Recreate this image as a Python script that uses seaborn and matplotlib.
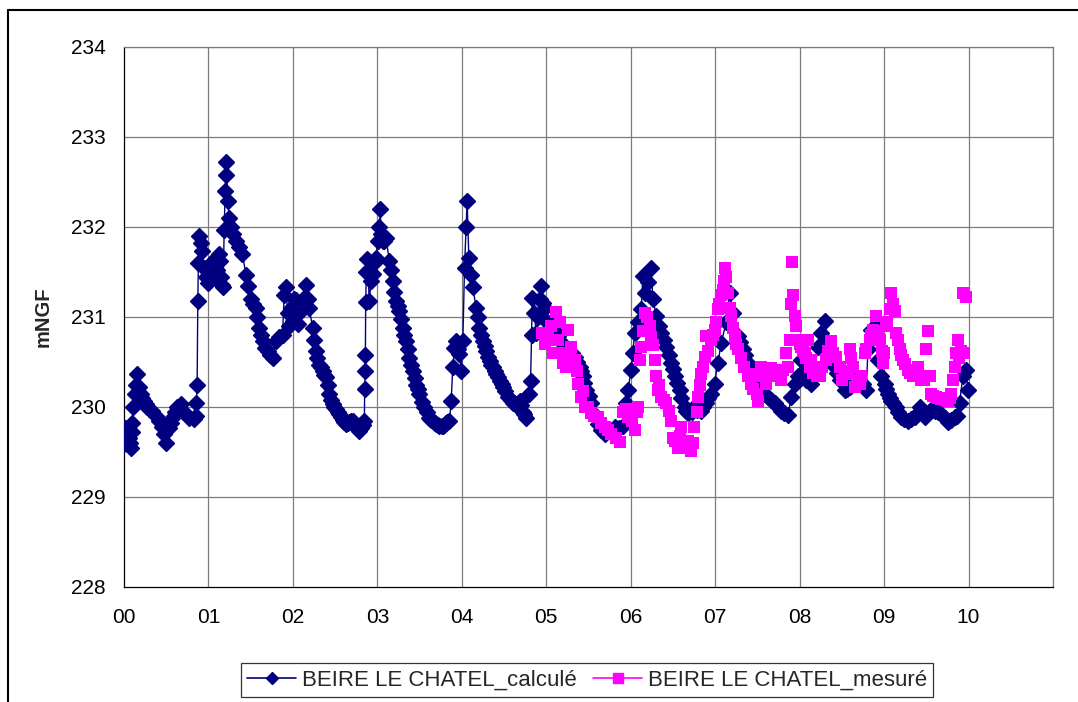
import numpy as np
import pandas as pd
import matplotlib
matplotlib.use("Agg")
import matplotlib.pyplot as plt
from matplotlib.lines import Line2D
import seaborn as sns

# ---------------- data ----------------
series_names = ["BEIRE LE CHATEL_calculé", "BEIRE LE CHATEL_mesuré"]
x_tick_labels = ["00", "01", "02", "03", "04", "05", "06", "07", "08", "09", "10"]
y_ticks = [228, 229, 230, 231, 232, 233, 234]
y_label = "mNGF"

calc_t = [0.000, 0.010, 0.025, 0.040, 0.055, 0.070, 0.079, 0.090, 0.099, 0.110, 0.130, 0.142,
          0.158, 0.178, 0.198, 0.237, 0.277, 0.336, 0.415, 0.474, 0.494, 0.534, 0.573, 0.632,
          0.672, 0.711, 0.771, 0.830, 0.850, 0.858, 0.866, 0.874, 0.881, 0.889, 0.909, 0.929,
          0.949, 0.968, 0.990, 1.008, 1.030, 1.047, 1.060, 1.087, 1.100, 1.126, 1.140, 1.146,
          1.160, 1.174, 1.186, 1.198, 1.205, 1.213, 1.229, 1.245, 1.265, 1.285, 1.324, 1.364,
          1.403, 1.443, 1.470, 1.502, 1.531, 1.561, 1.601, 1.640, 1.670, 1.700, 1.759, 1.798,
          1.838, 1.877, 1.897, 1.917, 1.937, 1.956, 1.976, 1.996, 2.016, 2.036, 2.055, 2.075,
          2.115, 2.154, 2.174, 2.194, 2.233, 2.273, 2.312, 2.352, 2.391, 2.431, 2.470, 2.510,
          2.549, 2.589, 2.628, 2.668, 2.708, 2.747, 2.787, 2.826, 2.846, 2.850, 2.854, 2.858,
          2.862, 2.870, 2.878, 2.905, 2.925, 2.945, 2.964, 2.984, 3.004, 3.024, 3.034, 3.044,
          3.063, 3.083, 3.103, 3.142, 3.182, 3.221, 3.261, 3.300, 3.340, 3.379, 3.419, 3.458,
          3.498, 3.557, 3.617, 3.656, 3.696, 3.735, 3.775, 3.815, 3.854, 3.874, 3.893, 3.913,
          3.933, 3.953, 3.972, 3.992, 4.012, 4.032, 4.051, 4.063, 4.083, 4.111, 4.130, 4.170,
          4.209, 4.249, 4.289, 4.328, 4.368, 4.407, 4.447, 4.486, 4.545, 4.605, 4.645, 4.684,
          4.724, 4.763, 4.794, 4.814, 4.826, 4.834, 4.858, 4.881, 4.901, 4.921, 4.941, 4.960,
          4.980, 5.012, 5.059, 5.138, 5.256, 5.335, 5.394, 5.434, 5.473, 5.533, 5.611, 5.690,
          5.809, 5.907, 5.947, 5.966, 6.006, 6.026, 6.045, 6.085, 6.124, 6.144, 6.164, 6.203,
          6.243, 6.262, 6.302, 6.361, 6.420, 6.479, 6.519, 6.578, 6.637, 6.677, 6.755, 6.834,
          6.893, 6.953, 6.992, 7.032, 7.071, 7.130, 7.170, 7.209, 7.268, 7.327, 7.387, 7.467,
          7.546, 7.625, 7.704, 7.783, 7.862, 7.901, 7.941, 7.980, 8.020, 8.039, 8.079, 8.138,
          8.178, 8.217, 8.256, 8.296, 8.335, 8.375, 8.414, 8.473, 8.533, 8.592, 8.651, 8.710,
          8.750, 8.789, 8.809, 8.848, 8.888, 8.927, 8.966, 9.006, 9.045, 9.085, 9.144, 9.203,
          9.282, 9.361, 9.420, 9.479, 9.538, 9.598, 9.677, 9.755, 9.834, 9.893, 9.933, 9.972,
          9.992,
          # further readings along the recession limbs
          0.217, 0.257, 0.300, 0.375, 0.445, 0.553, 0.600, 1.580, 1.620, 1.730,
          2.250, 2.290, 2.330, 2.370, 2.410, 2.450, 2.490, 2.530, 2.570, 2.610, 2.650, 2.690,
          2.730, 2.770, 2.810, 3.160, 3.200, 3.240, 3.280, 3.320, 3.360, 3.400, 3.440, 3.480,
          3.530, 3.590, 3.640, 3.680, 3.720, 3.760, 3.790, 3.830, 4.190, 4.230, 4.270, 4.310,
          4.350, 4.390, 4.430, 4.470, 4.510, 4.580, 4.620, 4.660, 4.700, 4.740, 5.100, 5.200,
          5.300, 5.360, 5.410, 5.450, 5.500, 5.570, 5.650, 5.750, 5.860, 6.340, 6.390, 6.450,
          6.500, 6.550, 6.600, 6.660, 6.720, 6.790, 6.860, 6.920, 7.290, 7.350, 7.430, 7.500,
          7.580, 7.660, 7.740, 7.820, 8.440, 8.560, 8.620, 8.680, 9.020, 9.070, 9.110, 9.170,
          9.240, 9.320, 9.390, 9.450, 9.510, 9.570, 9.640, 9.720, 9.790, 9.860]
calc_v = [229.59, 229.77, 229.70, 229.62, 229.66, 229.60, 229.55, 229.72, 229.82, 230.00, 230.14, 230.25,
          230.37, 230.22, 230.14, 230.07, 230.00, 229.96, 229.84, 229.70, 229.60, 229.77, 229.88, 230.00,
          230.03, 229.94, 229.88, 229.87, 229.90, 230.05, 230.25, 231.18, 231.60, 231.90, 231.82, 231.73,
          231.55, 231.44, 231.38, 231.48, 231.60, 231.55, 231.45, 231.66, 231.52, 231.70, 231.62, 231.44,
          231.36, 231.33, 231.97, 232.40, 232.58, 232.72, 232.29, 232.10, 232.00, 231.92, 231.84, 231.78,
          231.70, 231.47, 231.35, 231.20, 231.15, 231.10, 230.88, 230.73, 230.66, 230.62, 230.55, 230.73,
          230.78, 230.80, 231.25, 231.33, 231.05, 230.90, 231.10, 230.96, 231.20, 231.19, 230.92, 231.05,
          231.20, 231.36, 231.20, 231.10, 230.88, 230.62, 230.47, 230.40, 230.33, 230.14, 230.03, 229.98,
          229.92, 229.86, 229.81, 229.83, 229.84, 229.78, 229.73, 229.80, 229.84, 230.20, 230.40, 230.58,
          231.17, 231.50, 231.65, 231.18, 231.40, 231.48, 231.60, 231.66, 231.85, 232.00, 232.20, 231.92,
          231.84, 231.85, 231.88, 231.62, 231.40, 231.18, 231.07, 230.88, 230.73, 230.55, 230.40, 230.25,
          230.14, 230.00, 229.88, 229.84, 229.81, 229.79, 229.79, 229.82, 229.84, 230.07, 230.44, 230.66,
          230.73, 230.65, 230.59, 230.40, 230.73, 231.55, 232.00, 232.29, 231.66, 231.47, 231.33, 231.10,
          230.88, 230.73, 230.62, 230.51, 230.44, 230.37, 230.29, 230.22, 230.11, 230.05, 230.02, 230.07,
          229.95, 229.88, 230.14, 230.29, 230.80, 231.21, 231.05, 230.82, 231.00, 231.20, 231.35, 231.16,
          231.10, 230.94, 230.94, 230.79, 230.64, 230.56, 230.45, 230.34, 230.19, 230.04, 229.81, 229.70,
          229.78, 229.79, 230.04, 230.19, 230.41, 230.60, 230.82, 230.94, 231.09, 231.46, 231.27, 231.39,
          231.55, 231.20, 231.01, 230.82, 230.67, 230.49, 230.34, 230.19, 230.00, 229.93, 230.00, 229.96,
          230.04, 230.15, 230.26, 230.49, 230.71, 230.94, 231.27, 231.05, 230.79, 230.64, 230.49, 230.26,
          230.19, 230.11, 230.04, 229.96, 229.91, 230.11, 230.26, 230.34, 230.52, 230.37, 230.30, 230.26,
          230.41, 230.67, 230.82, 230.96, 230.71, 230.60, 230.45, 230.30, 230.19, 230.22, 230.30, 230.26,
          230.26, 230.19, 230.64, 230.86, 230.90, 230.52, 230.34, 230.26, 230.15, 230.07, 230.00, 229.89,
          229.85, 229.89, 230.00, 229.89, 229.96, 229.96, 229.92, 229.83, 229.89, 230.04, 230.34, 230.41,
          230.19,
          230.10, 230.03, 229.98, 229.90, 229.78, 229.82, 229.95, 231.00, 230.80, 230.58,
          230.75, 230.55, 230.44, 230.36, 230.24, 230.08, 230.00, 229.95, 229.89, 229.83, 229.82, 229.85,
          229.80, 229.76, 229.77, 231.52, 231.28, 231.12, 230.98, 230.80, 230.64, 230.47, 230.32, 230.20,
          230.06, 229.94, 229.86, 229.82, 229.80, 229.79, 229.80, 229.83, 231.00, 230.80, 230.68, 230.56,
          230.47, 230.40, 230.33, 230.26, 230.18, 230.08, 230.04, 230.05, 230.02, 229.92, 230.85, 230.70,
          230.60, 230.50, 230.40, 230.27, 230.12, 229.92, 229.75, 229.73, 229.77, 230.90, 230.75, 230.58,
          230.42, 230.27, 230.10, 229.96, 229.95, 229.97, 230.00, 230.10, 230.72, 230.58, 230.40, 230.24,
          230.15, 230.08, 230.00, 229.93, 230.38, 230.20, 230.26, 230.28, 230.20, 230.10, 230.05, 229.95,
          229.87, 229.87, 229.92, 229.95, 229.92, 229.98, 229.95, 229.88, 229.86, 229.90]

meas_t = [4.953, 4.980, 5.020, 5.079, 5.118, 5.158, 5.197, 5.237, 5.256, 5.296, 5.335, 5.375,
          5.414, 5.454, 5.533, 5.611, 5.690, 5.769, 5.868, 5.907, 5.966, 6.045, 6.085, 6.104,
          6.124, 6.164, 6.223, 6.262, 6.282, 6.302, 6.321, 6.361, 6.420, 6.459, 6.499, 6.558,
          6.598, 6.637, 6.716, 6.755, 6.795, 6.834, 6.874, 6.893, 6.953, 6.992, 7.032, 7.071,
          7.110, 7.118, 7.150, 7.189, 7.229, 7.268, 7.347, 7.426, 7.467, 7.507, 7.546, 7.606,
          7.665, 7.744, 7.803, 7.842, 7.882, 7.901, 7.913, 7.925, 7.941, 7.961, 7.980, 8.020,
          8.059, 8.099, 8.138, 8.178, 8.237, 8.316, 8.375, 8.434, 8.473, 8.533, 8.592, 8.631,
          8.651, 8.710, 8.769, 8.828, 8.868, 8.907, 8.947, 8.986, 9.026, 9.065, 9.085, 9.124,
          9.144, 9.183, 9.223, 9.282, 9.341, 9.400, 9.440, 9.499, 9.519, 9.538, 9.558, 9.617,
          9.677, 9.755, 9.795, 9.815, 9.834, 9.854, 9.874, 9.913, 9.933, 9.972,
          5.000, 5.060, 5.140, 5.220, 5.280, 5.360, 5.430, 5.490, 5.570, 5.650, 5.730, 5.820,
          5.940, 6.010, 6.070, 6.140, 6.190, 6.240, 6.340, 6.390, 6.480, 6.530, 6.580, 6.620,
          6.680, 6.740, 6.780, 6.820, 6.860, 6.920, 6.970, 7.010, 7.050, 7.090, 7.130, 7.170,
          7.210, 7.250, 7.310, 7.390, 7.450, 7.490, 7.570, 7.630, 7.700, 7.780, 7.860, 8.000,
          8.040, 8.080, 8.120, 8.160, 8.200, 8.270, 8.340, 8.400, 8.500, 8.560, 8.610, 8.680,
          8.730, 8.790, 8.850, 8.930, 8.970, 9.000, 9.040, 9.100, 9.160, 9.200, 9.250, 9.310,
          9.370, 9.420, 9.470, 9.580, 9.640, 9.700, 9.730, 9.780, 9.890, 9.950]
meas_v = [230.82, 230.70, 230.82, 230.60, 231.06, 230.94, 230.49, 230.45, 230.86, 230.67, 230.52, 230.26,
          230.11, 230.00, 229.93, 229.89, 229.78, 229.70, 229.61, 229.94, 229.89, 229.74, 230.00, 230.52,
          230.67, 231.05, 230.90, 230.69, 230.52, 230.34, 230.19, 230.11, 230.04, 229.96, 229.66, 229.55,
          229.78, 229.61, 229.51, 229.78, 230.11, 230.37, 230.56, 230.79, 230.75, 230.86, 231.09, 231.24,
          231.40, 231.55, 231.27, 231.01, 230.79, 230.64, 230.45, 230.26, 230.37, 230.07, 230.45, 230.26,
          230.43, 230.34, 230.41, 230.60, 230.75, 231.14, 231.61, 231.24, 231.01, 230.90, 230.75, 230.67,
          230.60, 230.75, 230.52, 230.41, 230.34, 230.52, 230.73, 230.56, 230.45, 230.37, 230.64, 230.45,
          230.22, 230.26, 230.60, 230.75, 230.86, 231.01, 230.75, 230.49, 230.90, 231.09, 231.27, 231.07,
          230.82, 230.64, 230.52, 230.41, 230.34, 230.45, 230.30, 230.64, 230.84, 230.34, 230.15, 230.11,
          230.09, 230.07, 230.15, 230.30, 230.45, 230.60, 230.75, 230.62, 231.27, 231.22,
          230.75, 230.90, 230.75, 230.60, 230.55, 230.40, 230.18, 230.00, 229.90, 229.82, 229.74, 229.66,
          229.98, 229.85, 229.95, 230.85, 231.00, 230.78, 230.25, 230.08, 229.85, 229.62, 229.68, 229.55,
          229.62, 229.60, 229.95, 230.25, 230.45, 230.62, 230.80, 230.95, 231.15, 231.30, 231.45, 231.10,
          230.88, 230.70, 230.55, 230.35, 230.20, 230.15, 230.35, 230.40, 230.38, 230.30, 230.45, 230.70,
          230.62, 230.55, 230.45, 230.38, 230.35, 230.45, 230.62, 230.60, 230.30, 230.40, 230.55, 230.30,
          230.35, 230.65, 230.80, 230.85, 230.62, 230.60, 230.95, 231.15, 230.75, 230.58, 230.48, 230.38,
          230.40, 230.35, 230.30, 230.12, 230.10, 230.10, 230.08, 230.10, 230.55, 230.60]

calc_df = pd.DataFrame({"t": calc_t, "v": calc_v}).sort_values("t")
meas_df = pd.DataFrame({"t": meas_t, "v": meas_v}).sort_values("t")

# ---------------- style ----------------
sns.set_style("white")
plt.rcParams["font.family"] = ["Liberation Sans", "DejaVu Sans"]

navy = "#000080"
magenta = "#FF00FF"
grid_c = "#7a7a7a"

fig = plt.figure(figsize=(10.78, 7.02), dpi=100)
ax = fig.add_axes([124 / 1078, 1 - 587 / 702, (1053 - 124) / 1078, (587 - 47) / 702])

sns.lineplot(data=calc_df, x="t", y="v", ax=ax, color=navy, linewidth=1.0,
             marker="D", markersize=7.8, markeredgewidth=1.0, markeredgecolor=navy,
             sort=False, estimator=None, zorder=3)
sns.scatterplot(data=meas_df, x="t", y="v", ax=ax, color=magenta, marker="s",
                s=80, linewidth=0, zorder=4)

ax.set_xlim(0, 11)
ax.set_ylim(228, 234)
ax.set_xticks(range(len(x_tick_labels)))
ax.set_xticklabels(x_tick_labels)
ax.set_yticks(y_ticks)
ax.set_yticklabels([str(v) for v in y_ticks])

# grid
for xv in range(1, 12):
    ax.axvline(xv, color=grid_c, lw=0.9, zorder=1)
for yv in y_ticks[1:]:
    ax.axhline(yv, color=grid_c, lw=0.9, zorder=1)

for side in ["top", "right"]:
    ax.spines[side].set_color(grid_c)
    ax.spines[side].set_linewidth(0.9)
for side in ["left", "bottom"]:
    ax.spines[side].set_color("black")
    ax.spines[side].set_linewidth(0.9)

ax.tick_params(axis="both", which="major", labelsize=15, direction="out", length=5, width=0.9)
ax.tick_params(axis="y", colors="black", pad=8)
ax.tick_params(axis="x", color=grid_c, labelcolor="black", pad=10)
ax.set_xlabel("")
ax.set_ylabel(y_label, fontsize=14.5, fontweight="bold")
ax.yaxis.set_label_coords(-0.077, 0.5)

# legend (Excel style)
handles = [
    Line2D([], [], color=navy, lw=1.2, marker="D", markersize=6.5),
    Line2D([], [], color=magenta, lw=1.2, marker="s", markersize=6.5),
]
leg = fig.legend(handles, series_names, loc="center", bbox_to_anchor=(587 / 1078, 1 - 680 / 702),
                 ncol=2, frameon=True, fancybox=False, edgecolor="black", fontsize=16,
                 handlelength=2.2, handletextpad=0.25, columnspacing=0.75, borderpad=0.3,
                 borderaxespad=0)
leg.get_frame().set_linewidth(0.9)

# outer chart-area border
fig.add_artist(Line2D([8 / 1078, 8 / 1078], [0, 1 - 10 / 702], color="black", lw=1.5,
                      transform=fig.transFigure))
fig.add_artist(Line2D([8 / 1078, 1], [1 - 10 / 702, 1 - 10 / 702], color="black", lw=1.5,
                      transform=fig.transFigure))

fig.savefig("out.png", dpi=100)
